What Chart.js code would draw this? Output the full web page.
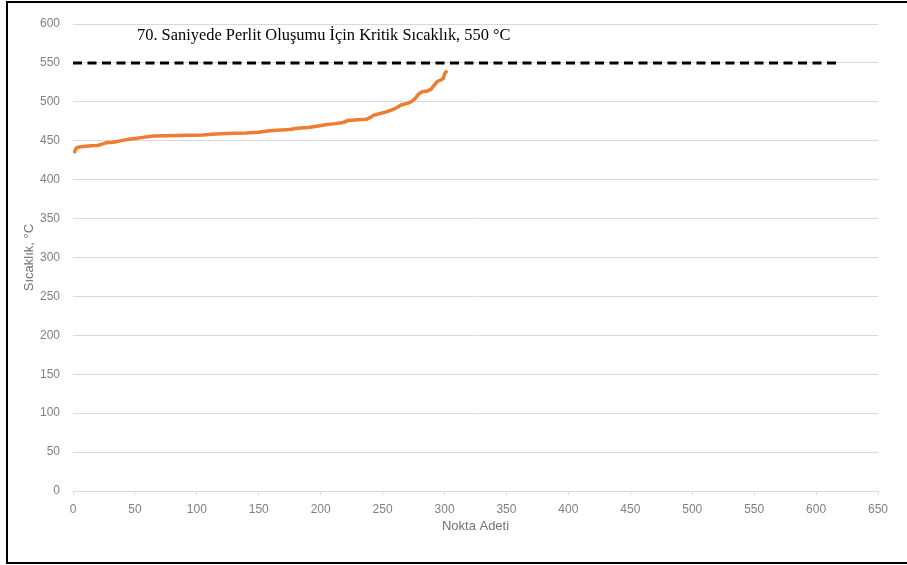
<!DOCTYPE html>
<html>
<head>
<meta charset="utf-8">
<script src="https://cdn.jsdelivr.net/npm/chart.js@4"></script>
<style>
  html, body { margin: 0; padding: 0; background: #fff; }
  #wrap { position: relative; width: 907px; height: 565px; overflow: hidden; }
  #frame {
    position: absolute; left: 6px; top: 1px; width: 1000px; height: 559px;
    border: 2px solid #000; border-right: none; pointer-events: none;
  }
</style>
</head>
<body>
<div id="wrap">
  <canvas id="chart" width="907" height="565"></canvas>
  <div id="frame"></div>
</div>
<script>
// Sorted temperatures per measurement point (point index -> °C)
const pointIndex = [1, 2, 3, 5, 10, 15, 20, 24, 27, 32, 36, 40, 45, 50, 55, 60, 65, 75, 85, 95,
  105, 112, 120, 130, 140, 150, 157, 165, 175, 181, 190, 198, 205, 212, 218, 222, 230, 237, 240, 243,
  248, 253, 258, 262, 265, 270, 273, 276, 279, 282, 286, 289, 292, 294, 297, 299, 300, 302];
const temperature = [434, 439, 441, 442, 443, 443.5, 444, 446, 447.5, 448, 449, 450.5, 452, 453, 454, 455, 456, 456.3, 456.6, 457,
  457.5, 458.5, 459, 459.5, 460, 461, 462.5, 463.5, 464.5, 466, 467, 469, 471, 472, 473.5, 476, 477, 477.5, 480, 483,
  485, 487, 490, 493, 496, 498, 500, 504, 510, 513, 514, 516, 522, 526, 528, 530, 536, 540];

// Critical temperature reference line
const criticalRange = [0, 618];
const criticalTemp = 550;
const criticalLabel = '70. Saniyede Perlit Oluşumu İçin Kritik Sıcaklık, 550 °C';

const xTitle = 'Nokta Adeti';
const yTitle = 'Sıcaklık, °C';

const curvePoints = pointIndex.map((x, i) => ({ x: x, y: temperature[i] }));
const criticalPoints = criticalRange.map(x => ({ x: x, y: criticalTemp }));

const tickFont = { family: '"Liberation Sans", Arial, sans-serif', size: 12 };
const titleFont = { family: '"Liberation Sans", Arial, sans-serif', size: 13 };

const criticalLabelPlugin = {
  id: 'criticalLabel',
  afterDraw(chart) {
    const ctx = chart.ctx;
    const area = chart.chartArea;
    ctx.save();
    ctx.font = '16.4px "Liberation Serif", "Times New Roman", serif';
    ctx.fillStyle = '#000';
    ctx.textBaseline = 'alphabetic';
    ctx.textAlign = 'left';
    ctx.fillText(criticalLabel, area.left + 64, area.top + 16);
    ctx.restore();
  }
};

new Chart(document.getElementById('chart'), {
  type: 'line',
  data: {
    datasets: [
      {
        data: curvePoints,
        borderColor: '#ED7D31',
        borderWidth: 3.5,
        pointRadius: 0,
        tension: 0,
        fill: false
      },
      {
        data: criticalPoints,
        borderColor: '#000',
        borderWidth: 3,
        borderDash: [9, 5.5],
        pointRadius: 0,
        fill: false
      }
    ]
  },
  options: {
    responsive: false,
    animation: false,
    layout: { padding: { top: 24, right: 29, left: 0, bottom: 0 } },
    plugins: { legend: { display: false }, tooltip: { enabled: false } },
    scales: {
      x: {
        type: 'linear',
        min: 0,
        max: 650,
        ticks: { stepSize: 50, color: '#808080', font: tickFont, padding: 7, maxRotation: 0 },
        grid: { drawOnChartArea: false, drawTicks: true, tickLength: 4, color: '#d9d9d9' },
        border: { display: true, color: '#d9d9d9' },
        title: { display: true, text: xTitle, color: '#737373', font: titleFont, padding: { top: 0, bottom: 31 } },
        afterFit(scale) { scale.height = 74; }
      },
      y: {
        min: 0,
        max: 600,
        ticks: { stepSize: 50, color: '#808080', font: tickFont, padding: 13 },
        grid: { color: '#d9d9d9', drawTicks: false },
        border: { display: false },
        title: { display: true, text: yTitle, color: '#737373', font: titleFont, padding: { top: 22, bottom: 0 } },
        afterFit(scale) { scale.width = 73; }
      }
    }
  },
  plugins: [criticalLabelPlugin]
});
</script>
</body>
</html>
